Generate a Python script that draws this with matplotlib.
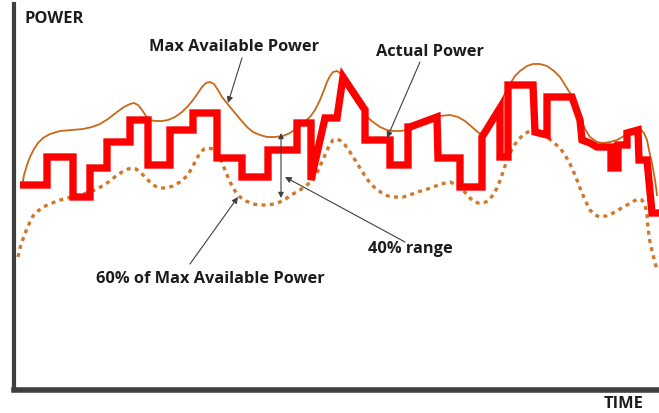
import matplotlib.pyplot as plt

# Values in its own pixel units (x right, y down)
max_x = [22, 24, 27, 30, 34, 38, 43, 50, 60, 72, 83, 92, 100, 108, 117, 124, 130, 134, 138,
         142, 146, 150, 155, 162, 168, 175, 182, 188, 193, 198, 202, 206, 210, 214, 218,
         222, 230, 240, 247, 253, 260, 267, 275, 283, 290, 297, 303, 310, 315, 320, 324,
         327, 330, 333, 337, 340, 343, 347, 352, 357, 362, 367, 373, 380, 387, 393, 400,
         407, 414, 420, 427, 433, 440, 450, 458, 465, 472, 480, 485, 490, 495, 500, 505,
         510, 515, 520, 527, 533, 540, 547, 554, 560, 565, 570, 575, 580, 585, 590, 597,
         603, 610, 617, 624, 630, 636, 640, 644, 647, 649, 652, 655, 657]
max_y = [187, 175, 165, 157, 149, 143, 138, 134, 131, 130, 129, 127, 124, 119, 112, 107, 104, 103, 105,
         110, 116, 120, 121, 121, 120, 117, 112, 106, 100, 93, 87, 83, 82, 84, 90,
         97, 107, 119, 127, 132, 135, 137, 137, 136, 133, 128, 123, 117, 110, 100, 90,
         82, 76, 72, 71, 73, 79, 87, 95, 103, 110, 117, 122, 127, 130, 131, 131,
         130, 128, 125, 121, 118, 116, 115, 117, 121, 127, 134, 131, 126, 116, 105, 93,
         84, 76, 71, 66, 64, 64, 66, 71, 77, 85, 93, 105, 117, 129, 137, 142,
         143, 142, 140, 136, 133, 130, 129, 133, 140, 150, 163, 180, 195]

low_x = [18, 20, 23, 26, 29, 33, 38, 43, 50, 57, 67, 80, 90, 97, 104, 110, 116, 122, 128,
         132, 136, 140, 145, 150, 155, 160, 166, 173, 180, 187, 192, 196, 200, 204, 208,
         213, 217, 221, 225, 230, 235, 240, 246, 253, 260, 267, 274, 280, 287, 293, 300,
         307, 313, 317, 321, 325, 329, 333, 337, 341, 345, 350, 355, 360, 365, 370, 376,
         382, 388, 395, 403, 410, 417, 425, 433, 441, 450, 457, 463, 468, 473, 478, 483,
         488, 493, 497, 501, 505, 509, 513, 518, 523, 528, 533, 540, 547, 553, 560, 565,
         570, 575, 580, 585, 590, 595, 600, 606, 613, 620, 627, 634, 638, 642, 645, 647,
         648, 650, 653, 657]
low_y = [257, 248, 239, 231, 224, 216, 211, 207, 204, 201, 198, 195, 192, 189, 185, 181, 176, 172, 169,
         168, 169, 172, 177, 182, 186, 188, 188, 186, 182, 176, 168, 160, 153, 149, 148,
         149, 152, 160, 170, 182, 191, 197, 201, 204, 205, 205, 204, 202, 198, 194, 190,
         185, 180, 173, 164, 155, 146, 140, 139, 141, 145, 152, 160, 168, 176, 183, 189,
         193, 196, 197, 197, 195, 192, 190, 187, 184, 182, 185, 190, 196, 201, 203, 203,
         201, 195, 188, 178, 166, 155, 147, 140, 135, 132, 131, 133, 137, 142, 148, 155,
         164, 175, 188, 200, 210, 215, 217, 216, 213, 209, 205, 201, 199, 200, 205, 215,
         228, 242, 255, 270]

act_x = [20, 47, 47, 73, 73, 90, 90, 107, 107, 130, 130, 148, 148, 170, 170, 193, 193, 217,
         217, 242, 242, 268, 268, 297, 297, 311, 311, 325, 325, 337, 343, 365, 365, 390,
         390, 408, 408, 410, 410, 437, 438, 460, 460, 482, 482, 500, 500, 508, 508, 533,
         535, 547, 547, 572, 580, 582, 590, 597, 611, 611, 618, 618, 627, 627, 638, 639,
         647, 652, 659]
act_y = [185, 185, 157, 157, 197, 197, 168, 168, 142, 142, 120, 120, 165, 165, 130, 130, 113, 113,
         158, 158, 177, 177, 150, 150, 123, 123, 180, 118, 118, 118, 77, 110, 140, 140,
         165, 165, 127, 127, 127, 117, 158, 158, 187, 187, 137, 108, 157, 157, 85, 85,
         132, 135, 97, 97, 120, 140, 143, 147, 147, 168, 168, 145, 145, 133, 130, 160,
         160, 213, 213]

grey = "#3f3f3f"
orange = "#c96818"

fig = plt.figure(figsize=(6.59, 4.13), dpi=100)
ax = fig.add_axes([14 / 659, 23 / 413, 645 / 659, 386 / 413])
ax.set_xlim(14, 659)
ax.set_ylim(390, 4)
for side in ["top", "right"]:
    ax.spines[side].set_visible(False)
ax.spines["left"].set_linewidth(3)
ax.spines["left"].set_color(grey)
ax.spines["bottom"].set_linewidth(4)
ax.spines["bottom"].set_color(grey)
ax.set_xticks([])
ax.set_yticks([])

ax.plot(max_x, max_y, color=orange, lw=1.3)
ax.plot(low_x, low_y, color="#d0782c", lw=2.4, linestyle=(0, (1.2, 1.3)))
ax.plot(act_x, act_y, color="#ff0000", lw=5.3, solid_joinstyle="miter",
        solid_capstyle="butt", clip_on=False)

font = dict(family="Open Sans", weight="bold", fontsize=11.8, color="#1c1c1c")
arrow = dict(arrowstyle="-|>", color=grey, lw=0.8, mutation_scale=9,
             shrinkA=0, shrinkB=0)

ax.text(25, 23, "POWER", ha="left", va="baseline", **font)
ax.text(624, 408, "TIME", ha="center", va="baseline", clip_on=False, **font)

ax.annotate("", xy=(228, 103), xytext=(242, 58), arrowprops=arrow)
ax.text(234, 51, "Max Available Power", ha="center", va="baseline", **font)
ax.annotate("", xy=(387, 138), xytext=(420, 62), arrowprops=arrow)
ax.text(430, 56, "Actual Power", ha="center", va="baseline", **font)
ax.annotate("", xy=(285, 177), xytext=(405, 242), arrowprops=arrow)
ax.text(410, 253, "40% range", ha="center", va="baseline", **font)
ax.annotate("", xy=(238, 197), xytext=(190, 264), arrowprops=arrow)
ax.text(210, 283, "60% of Max Available Power", ha="center", va="baseline", **font)
ax.annotate("", xy=(281, 133), xytext=(281, 198),
            arrowprops=dict(arrowstyle="<|-|>", color=grey, lw=0.8, mutation_scale=8,
                            shrinkA=0, shrinkB=0))

fig.savefig("out.png", dpi=100)
